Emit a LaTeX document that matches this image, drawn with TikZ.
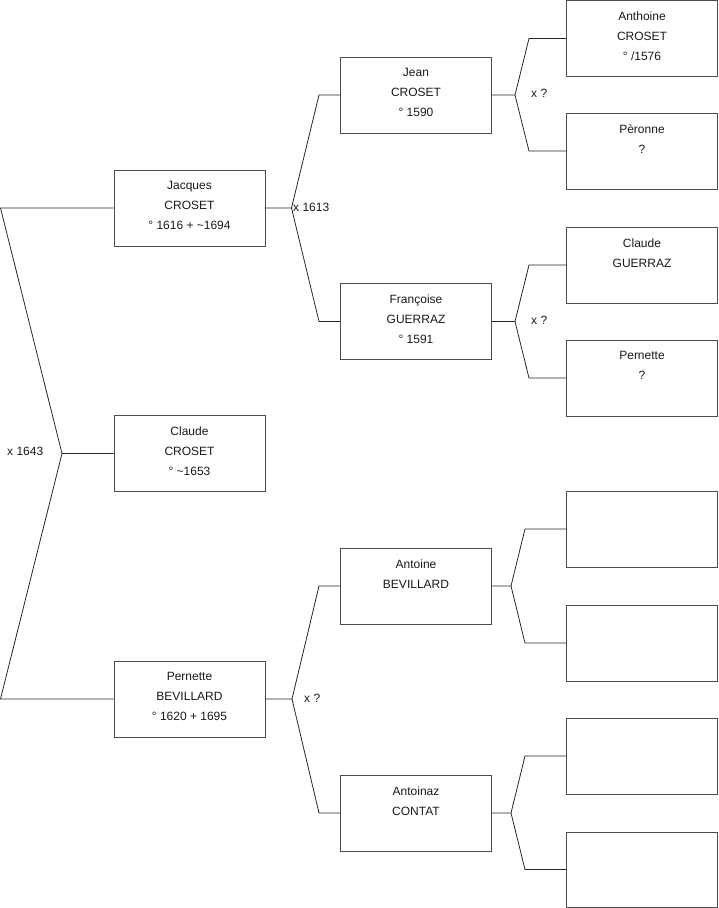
\documentclass[tikz,border=0pt]{standalone}
\usepackage{fontspec}
\setmainfont{Liberation Sans}
\begin{document}
\begin{tikzpicture}[x=1pt,y=-1pt,
  box/.style={draw=black!70, line width=0.9pt, minimum width=151pt, minimum height=76pt, inner sep=0pt},
  txt/.style={anchor=north, align=center, font=\fontsize{12}{20}\selectfont, inner sep=0pt, text=black!90},
  conn/.style={draw=black!85, line width=0.8pt},
  lbl/.style={anchor=west, font=\fontsize{12}{14}\selectfont, inner sep=0pt, text=black!90}]
\useasboundingbox (0,0) rectangle (719,908);
% boxes
\node[box] (jacques)   at (189.5,208) {};
\node[box] (claude)    at (189.5,453.5) {};
\node[box] (pernette)  at (189.5,699) {};
\node[box] (jean)      at (416,95) {};
\node[box] (francoise) at (416,321.5) {};
\node[box] (antoine)   at (416,586) {};
\node[box] (antoinaz)  at (416,813) {};
\node[box] (anthoine)  at (642,38.5) {};
\node[box] (peronne)   at (642,151) {};
\node[box] (claudeg)   at (642,265) {};
\node[box] (pernette2) at (642,378) {};
\node[box] (e1) at (642,529) {};
\node[box] (e2) at (642,643) {};
\node[box] (e3) at (642,756) {};
\node[box, minimum height=75pt] (e4) at (642,869.5) {};
% texts
\node[txt] (t1) at ([yshift=-11.8pt]jacques.north) {Jacques\\CROSET\\° 1616 + \textasciitilde1694};
\node[txt] (t2) at ([yshift=-11.8pt]claude.north) {Claude\\CROSET\\° \textasciitilde1653};
\node[txt] (t3) at ([yshift=-11.8pt]pernette.north) {Pernette\\BEVILLARD\\° 1620 + 1695};
\node[txt] (t4) at ([yshift=-11.8pt]jean.north) {Jean\\CROSET\\° 1590};
\node[txt] (t5) at ([yshift=-11.8pt]francoise.north) {Françoise\\GUERRAZ\\° 1591};
\node[txt] (t6) at ([yshift=-11.8pt]antoine.north) {Antoine\\BEVILLARD};
\node[txt] (t7) at ([yshift=-11.8pt]antoinaz.north) {Antoinaz\\CONTAT};
\node[txt] (t8) at ([yshift=-11.3pt]anthoine.north) {Anthoine\\CROSET\\° /1576};
\node[txt] (t9) at ([yshift=-11.8pt]peronne.north) {Pèronne\\?};
\node[txt] (t10) at ([yshift=-11.8pt]claudeg.north) {Claude\\GUERRAZ};
\node[txt] (t11) at ([yshift=-11.8pt]pernette2.north) {Pernette\\?};
% left bracket
\coordinate (l1) at (0.5,208);
\coordinate (l2) at (62,453.5);
\coordinate (l3) at (0.5,699);
\draw[conn] (jacques.west) -- (l1) -- (l2) -- (claude.west);
\draw[conn] (pernette.west) -- (l3) -- (l2);
\node[lbl] (x1643) at (7,451) {x 1643};
% Jacques parents
\coordinate (a1) at (291.5,208);
\coordinate (a1u) at (319,95);
\coordinate (a1d) at (319,321.5);
\draw[conn] (jacques.east) -- (a1) -- (a1u) -- (jean.west);
\draw[conn] (a1) -- (a1d) -- (francoise.west);
\node[lbl] (x1613) at (293,207) {x 1613};
% Pernette parents
\coordinate (a2) at (292,699);
\coordinate (a2u) at (319,586);
\coordinate (a2d) at (319,813);
\draw[conn] (pernette.east) -- (a2) -- (a2u) -- (antoine.west);
\draw[conn] (a2) -- (a2d) -- (antoinaz.west);
\node[lbl] (xq3) at (304,698) {x ?};
% Jean parents
\coordinate (b1) at (515,95);
\coordinate (b1u) at (529,38.5);
\coordinate (b1d) at (529,151);
\draw[conn] (jean.east) -- (b1) -- (b1u) -- (anthoine.west);
\draw[conn] (b1) -- (b1d) -- (peronne.west);
\node[lbl] (xq1) at (531,93) {x ?};
% Francoise parents
\coordinate (b2) at (515,321.5);
\coordinate (b2u) at (529,265);
\coordinate (b2d) at (529,378);
\draw[conn] (francoise.east) -- (b2) -- (b2u) -- (claudeg.west);
\draw[conn] (b2) -- (b2d) -- (pernette2.west);
\node[lbl] (xq2) at (531,320) {x ?};
% Antoine parents
\coordinate (b3) at (511,586);
\coordinate (b3u) at (525,529);
\coordinate (b3d) at (525,643);
\draw[conn] (antoine.east) -- (b3) -- (b3u) -- (e1.west);
\draw[conn] (b3) -- (b3d) -- (e2.west);
% Antoinaz parents
\coordinate (b4) at (511,813);
\coordinate (b4u) at (525,756);
\coordinate (b4d) at (525,869.5);
\draw[conn] (antoinaz.east) -- (b4) -- (b4u) -- (e3.west);
\draw[conn] (b4) -- (b4d) -- (e4.west);
\end{tikzpicture}
\end{document}
